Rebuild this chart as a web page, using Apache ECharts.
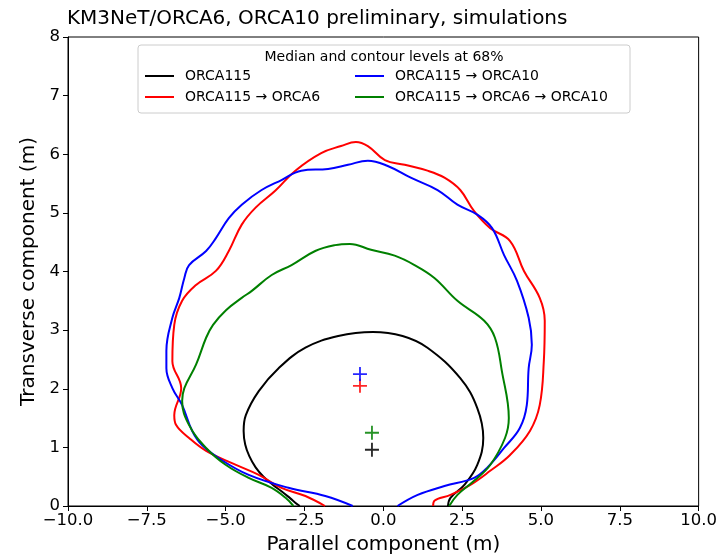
<!DOCTYPE html>
<html>
<head>
<meta charset="utf-8">
<script src="https://cdn.jsdelivr.net/npm/echarts@6/dist/echarts.min.js"></script>
<style>
  html, body { margin: 0; padding: 0; background: #fff; }
  #chart { width: 720px; height: 560px; }
</style>
</head>
<body>
<div id="chart"></div>
<script>
// contour points [parallel, transverse]
var orca115 = [
  [-2.65, 0], [-2.75, 0.04], [-2.95, 0.13], [-3.2, 0.24], [-3.5, 0.36], [-3.8, 0.5],
  [-4.05, 0.66], [-4.25, 0.85], [-4.38, 1.05], [-4.43, 1.28],
  [-4.36, 1.55], [-3.95, 1.96], [-3.32, 2.35], [-2.47, 2.70], [-1.43, 2.90], [-0.33, 2.97],
  [0.61, 2.90], [1.40, 2.70], [2.44, 2.18], [2.98, 1.67], [3.17, 1.16], [2.98, 0.70],
  [2.57, 0.36], [2.13, 0.14], [2.05, 0]
]
var orca6 = [
  [-1.85, 0], [-2.47, 0.17], [-3.23, 0.31], [-3.95, 0.53], [-4.80, 0.73], [-5.62, 0.94],
  [-6.16, 1.16], [-6.57, 1.38], [-6.63, 1.55], [-6.41, 2.01], [-6.69, 2.47], [-6.63, 3.09],
  [-6.38, 3.50], [-5.94, 3.77], [-5.31, 4.01], [-4.90, 4.35], [-4.49, 4.80], [-4.05, 5.09],
  [-3.42, 5.38], [-2.79, 5.72], [-1.97, 6.02], [-1.34, 6.14], [-0.87, 6.21], [-0.49, 6.14],
  [0.05, 5.90], [0.68, 5.82], [1.40, 5.72], [1.94, 5.60], [2.44, 5.39], [2.88, 5.03],
  [3.39, 4.74], [4.02, 4.52], [4.46, 4.01], [4.96, 3.55], [5.12, 3.16], [5.09, 2.47],
  [4.96, 1.72], [4.65, 1.28], [4.02, 0.87], [3.39, 0.60], [2.76, 0.36], [2.13, 0.19],
  [1.62, 0.09], [1.58, 0]
]
var orca10 = [
  [-0.97, 0], [-1.84, 0.17], [-3.01, 0.31], [-4.27, 0.53], [-5.12, 0.78], [-5.75, 1.04],
  [-6.06, 1.28], [-6.38, 1.72], [-6.69, 2.01], [-6.88, 2.35], [-6.88, 2.65], [-6.69, 3.21],
  [-6.47, 3.55], [-6.31, 3.89], [-6.16, 4.11], [-5.62, 4.35], [-5.31, 4.57], [-4.90, 4.91],
  [-4.49, 5.14], [-3.86, 5.39], [-3.23, 5.56], [-2.60, 5.72], [-1.75, 5.75], [-1.12, 5.82],
  [-0.49, 5.89], [0.14, 5.80], [0.87, 5.60], [1.72, 5.39], [2.35, 5.14], [2.98, 4.97],
  [3.45, 4.74], [3.83, 4.28], [4.24, 3.84], [4.61, 3.21], [4.71, 2.75], [4.61, 2.35],
  [4.55, 1.72], [4.33, 1.33], [3.83, 0.99], [3.29, 0.65], [2.88, 0.48], [1.94, 0.34],
  [1.09, 0.19], [0.45, 0]
]
var orca6to10 = [
  [-2.85, 0], [-3.10, 0.14], [-3.54, 0.31], [-4.27, 0.48], [-4.99, 0.70], [-5.62, 0.99],
  [-6.16, 1.38], [-6.38, 1.79], [-6.31, 2.01], [-5.94, 2.41], [-5.62, 2.87], [-5.40, 3.09],
  [-4.99, 3.34], [-4.49, 3.55], [-4.17, 3.67], [-3.54, 3.94], [-2.91, 4.11], [-2.16, 4.35],
  [-1.53, 4.45], [-1.06, 4.47], [-0.39, 4.37], [0.36, 4.27], [0.99, 4.11], [1.62, 3.89],
  [2.35, 3.50], [3.20, 3.16], [3.54, 2.87], [3.76, 2.30], [3.98, 1.50], [3.86, 1.16],
  [3.39, 0.70], [2.88, 0.43], [2.35, 0.19], [2.09, 0]
]

// medians
var medians = [[-0.36, 0.96], [-0.74, 2.05], [-0.74, 2.25], [-0.36, 1.25]]

var names = ['ORCA115', 'ORCA115 → ORCA6', 'ORCA115 → ORCA10', 'ORCA115 → ORCA6 → ORCA10']
var colors = ['#000000', '#ff0000', '#0000ff', '#008000']
var contours = [orca115, orca6, orca10, orca6to10]

var xTicks = [-10, 10, 2.5]
var yTicks = [0, 8, 1]

var plus = 'path://M-1.3,-10 L1.3,-10 L1.3,-1.3 L10,-1.3 L10,1.3 L1.3,1.3 L1.3,10 L-1.3,10 L-1.3,1.3 L-10,1.3 L-10,-1.3 L-1.3,-1.3 Z'
var font = 'DejaVu Sans'

var chart = echarts.init(document.getElementById('chart'))

var series = []
contours.forEach(function (c, i) {
  series.push({
    name: names[i],
    type: 'line',
    data: c,
    smooth: 0.4,
    showSymbol: false,
    symbol: 'none',
    lineStyle: { color: colors[i], width: 2 },
    itemStyle: { color: colors[i] },
    z: 3
  })
})
medians.forEach(function (m, i) {
  series.push({
    name: 'median' + i,
    type: 'scatter',
    data: [m],
    symbol: plus,
    symbolSize: 14,
    itemStyle: { color: colors[i], opacity: 0.85 },
    z: 4
  })
})

var legendCommon = {
  orient: 'vertical',
  top: 68,
  padding: 0,
  itemGap: 5,
  itemWidth: 29,
  itemHeight: 2,
  icon: 'rect',
  textStyle: { fontFamily: font, fontSize: 14, color: '#000', lineHeight: 16, padding: [0, 0, 0, 6] }
}

var option = {
  animation: false,
  backgroundColor: '#fff',
  title: {
    text: 'KM3NeT/ORCA6, ORCA10 preliminary, simulations',
    left: 67,
    top: 9,
    padding: 0,
    textStyle: { fontFamily: font, fontSize: 20, fontWeight: 'normal', color: '#000' }
  },
  grid: {
    left: 68, right: 20, top: 37, bottom: 52,
    show: true, borderColor: '#000', borderWidth: 1
  },
  legend: [
    Object.assign({ left: 145, data: [names[0], names[1]] }, legendCommon),
    Object.assign({ left: 355, data: [names[2], names[3]] }, legendCommon)
  ],
  graphic: [
    {
      type: 'rect', z: 3,
      shape: { x: 138, y: 45, width: 492, height: 68, r: 3 },
      style: { fill: 'rgba(255,255,255,0.8)', stroke: '#cccccc', lineWidth: 1 }
    },
    {
      type: 'text', z: 4,
      x: 384, y: 57,
      style: {
        text: 'Median and contour levels at 68%',
        fontFamily: font, fontSize: 14, fill: '#000',
        align: 'center', verticalAlign: 'middle'
      }
    }
  ],
  xAxis: {
    type: 'value',
    min: xTicks[0], max: xTicks[1], interval: xTicks[2],
    name: 'Parallel component (m)',
    nameLocation: 'middle',
    nameGap: 29,
    nameTextStyle: { fontFamily: font, fontSize: 20, color: '#000' },
    axisLine: { show: true, onZero: false, lineStyle: { color: '#000', width: 1 } },
    axisTick: { show: true, length: 5, lineStyle: { color: '#000' } },
    axisLabel: {
      fontFamily: font, fontSize: 16.5, color: '#000', margin: 6,
      formatter: function (v) { return (v < 0 ? '\u2212' : '') + Math.abs(v).toFixed(1) }
    },
    splitLine: { show: false }
  },
  yAxis: {
    type: 'value',
    min: yTicks[0], max: yTicks[1], interval: yTicks[2],
    name: 'Transverse component (m)',
    nameLocation: 'middle',
    nameGap: 28,
    nameTextStyle: { fontFamily: font, fontSize: 20, color: '#000' },
    axisLine: { show: true, onZero: false, lineStyle: { color: '#000', width: 1 } },
    axisTick: { show: true, length: 5, lineStyle: { color: '#000' } },
    axisLabel: { fontFamily: font, fontSize: 16.5, color: '#000', margin: 8 },
    splitLine: { show: false }
  },
  series: series
}

chart.setOption(option)
</script>
</body>
</html>
